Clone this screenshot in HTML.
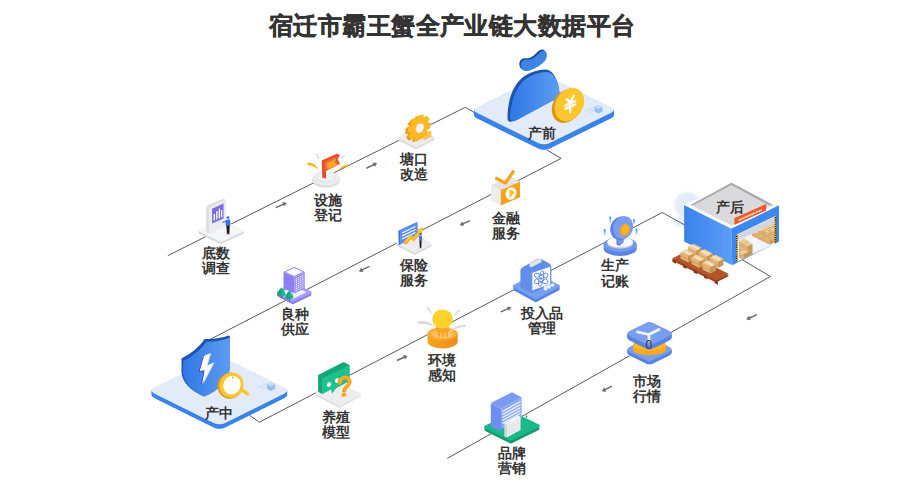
<!DOCTYPE html>
<html><head><meta charset="utf-8">
<style>
html,body{margin:0;padding:0;background:#fff;width:918px;height:482px;overflow:hidden}
svg{display:block}
text{font-family:"Liberation Sans",sans-serif;font-weight:bold;fill:#333}
.lb{font-size:13.6px;text-anchor:middle}
</style></head><body>
<svg width="918" height="482" viewBox="0 0 918 482">
<text x="452.2" y="33.8" style="font-size:24px;text-anchor:middle;letter-spacing:0.43px;stroke:#333;stroke-width:0.45px">宿迁市霸王蟹全产业链大数据平台</text>
<defs><filter id="blur0" x="-50%" y="-50%" width="200%" height="200%"><feGaussianBlur stdDeviation="1.2"/></filter></defs><g filter="url(#blur0)" fill="#e3edfb"><circle cx="687.5" cy="205" r="13"/><circle cx="679.5" cy="222" r="5"/></g><g fill="none" stroke="#5a5a5a" stroke-width="1" stroke-linejoin="miter">
<polyline points="167.8,255.6 465.3,107.3 480,116"/>
<polyline points="546.6,149.8 561.1,158.4 207,341"/>
<polyline points="249.6,415.4 259.4,422.2 662.3,212.5 690,228"/>
<polyline points="740.5,258.7 770.4,276.5 447.3,458.4"/>
</g><path d="M276.4,207.4 L284.9,203.6" stroke="#6a6a6a" stroke-width="1.5" fill="none" stroke-linecap="round"/><polygon points="286.3,203.0 284.2,206.1 282.6,202.5" fill="#6a6a6a" stroke="#6a6a6a" stroke-width="0.5" stroke-linejoin="round"/><path d="M366.9,168.0 L375.4,163.9" stroke="#6a6a6a" stroke-width="1.5" fill="none" stroke-linecap="round"/><polygon points="376.8,163.3 374.8,166.5 373.1,162.9" fill="#6a6a6a" stroke="#6a6a6a" stroke-width="0.5" stroke-linejoin="round"/><path d="M469.5,220.9 L461.5,224.4" stroke="#6a6a6a" stroke-width="1.5" fill="none" stroke-linecap="round"/><polygon points="460.1,225.0 462.2,221.9 463.8,225.6" fill="#6a6a6a" stroke="#6a6a6a" stroke-width="0.5" stroke-linejoin="round"/><path d="M368.9,266.7 L360.7,270.7" stroke="#6a6a6a" stroke-width="1.5" fill="none" stroke-linecap="round"/><polygon points="359.3,271.3 361.3,268.1 363.1,271.7" fill="#6a6a6a" stroke="#6a6a6a" stroke-width="0.5" stroke-linejoin="round"/><path d="M397.5,360.3 L405.7,356.5" stroke="#6a6a6a" stroke-width="1.5" fill="none" stroke-linecap="round"/><polygon points="407.1,355.9 405.0,359.1 403.4,355.4" fill="#6a6a6a" stroke="#6a6a6a" stroke-width="0.5" stroke-linejoin="round"/><path d="M501.4,311.6 L509.6,308.1" stroke="#6a6a6a" stroke-width="1.5" fill="none" stroke-linecap="round"/><polygon points="511.0,307.5 508.8,310.6 507.3,306.9" fill="#6a6a6a" stroke="#6a6a6a" stroke-width="0.5" stroke-linejoin="round"/><path d="M611.3,386.4 L603.5,390.4" stroke="#6a6a6a" stroke-width="1.5" fill="none" stroke-linecap="round"/><polygon points="602.2,391.1 604.1,387.9 606.0,391.4" fill="#6a6a6a" stroke="#6a6a6a" stroke-width="0.5" stroke-linejoin="round"/><path d="M756.3,314.9 L748.1,318.7" stroke="#6a6a6a" stroke-width="1.5" fill="none" stroke-linecap="round"/><polygon points="746.7,319.3 748.8,316.1 750.4,319.8" fill="#6a6a6a" stroke="#6a6a6a" stroke-width="0.5" stroke-linejoin="round"/><path d="M477.28,113.08 Q471.00,110.00 477.28,106.92 L537.72,77.28 Q544.00,74.20 550.28,77.28 L610.72,106.92 Q617.00,110.00 610.72,113.08 L550.28,142.72 Q544.00,145.80 537.72,142.72 Z" fill="#3a85ea" transform="translate(0 5.5)"/><path d="M477.28,113.08 Q471.00,110.00 477.28,106.92 L537.72,77.28 Q544.00,74.20 550.28,77.28 L610.72,106.92 Q617.00,110.00 610.72,113.08 L550.28,142.72 Q544.00,145.80 537.72,142.72 Z" fill="#3a85ea" transform="translate(0 5.0)"/><path d="M477.28,113.08 Q471.00,110.00 477.28,106.92 L537.72,77.28 Q544.00,74.20 550.28,77.28 L610.72,106.92 Q617.00,110.00 610.72,113.08 L550.28,142.72 Q544.00,145.80 537.72,142.72 Z" fill="#3a85ea" transform="translate(0 4.5)"/><path d="M477.28,113.08 Q471.00,110.00 477.28,106.92 L537.72,77.28 Q544.00,74.20 550.28,77.28 L610.72,106.92 Q617.00,110.00 610.72,113.08 L550.28,142.72 Q544.00,145.80 537.72,142.72 Z" fill="#3a85ea" transform="translate(0 4.0)"/><path d="M477.28,113.08 Q471.00,110.00 477.28,106.92 L537.72,77.28 Q544.00,74.20 550.28,77.28 L610.72,106.92 Q617.00,110.00 610.72,113.08 L550.28,142.72 Q544.00,145.80 537.72,142.72 Z" fill="#3a85ea" transform="translate(0 3.5)"/><path d="M477.28,113.08 Q471.00,110.00 477.28,106.92 L537.72,77.28 Q544.00,74.20 550.28,77.28 L610.72,106.92 Q617.00,110.00 610.72,113.08 L550.28,142.72 Q544.00,145.80 537.72,142.72 Z" fill="#3a85ea" transform="translate(0 3.0)"/><path d="M477.28,113.08 Q471.00,110.00 477.28,106.92 L537.72,77.28 Q544.00,74.20 550.28,77.28 L610.72,106.92 Q617.00,110.00 610.72,113.08 L550.28,142.72 Q544.00,145.80 537.72,142.72 Z" fill="#3a85ea" transform="translate(0 2.5)"/><path d="M477.28,113.08 Q471.00,110.00 477.28,106.92 L537.72,77.28 Q544.00,74.20 550.28,77.28 L610.72,106.92 Q617.00,110.00 610.72,113.08 L550.28,142.72 Q544.00,145.80 537.72,142.72 Z" fill="#3a85ea" transform="translate(0 2.0)"/><path d="M477.28,113.08 Q471.00,110.00 477.28,106.92 L537.72,77.28 Q544.00,74.20 550.28,77.28 L610.72,106.92 Q617.00,110.00 610.72,113.08 L550.28,142.72 Q544.00,145.80 537.72,142.72 Z" fill="#3a85ea" transform="translate(0 1.5)"/><path d="M477.28,113.08 Q471.00,110.00 477.28,106.92 L537.72,77.28 Q544.00,74.20 550.28,77.28 L610.72,106.92 Q617.00,110.00 610.72,113.08 L550.28,142.72 Q544.00,145.80 537.72,142.72 Z" fill="#3a85ea" transform="translate(0 1.0)"/><path d="M477.28,113.08 Q471.00,110.00 477.28,106.92 L537.72,77.28 Q544.00,74.20 550.28,77.28 L610.72,106.92 Q617.00,110.00 610.72,113.08 L550.28,142.72 Q544.00,145.80 537.72,142.72 Z" fill="#3a85ea" transform="translate(0 0.5)"/><path d="M477.28,113.08 Q471.00,110.00 477.28,106.92 L537.72,77.28 Q544.00,74.20 550.28,77.28 L610.72,106.92 Q617.00,110.00 610.72,113.08 L550.28,142.72 Q544.00,145.80 537.72,142.72 Z" fill="#e3ebf9" /><path d="M154.67,393.71 Q148.40,390.60 154.67,387.49 L213.13,358.51 Q219.40,355.40 225.67,358.51 L284.13,387.49 Q290.40,390.60 284.13,393.71 L225.67,422.69 Q219.40,425.80 213.13,422.69 Z" fill="#3a85ea" transform="translate(0 4.5)"/><path d="M154.67,393.71 Q148.40,390.60 154.67,387.49 L213.13,358.51 Q219.40,355.40 225.67,358.51 L284.13,387.49 Q290.40,390.60 284.13,393.71 L225.67,422.69 Q219.40,425.80 213.13,422.69 Z" fill="#3a85ea" transform="translate(0 4.0)"/><path d="M154.67,393.71 Q148.40,390.60 154.67,387.49 L213.13,358.51 Q219.40,355.40 225.67,358.51 L284.13,387.49 Q290.40,390.60 284.13,393.71 L225.67,422.69 Q219.40,425.80 213.13,422.69 Z" fill="#3a85ea" transform="translate(0 3.5)"/><path d="M154.67,393.71 Q148.40,390.60 154.67,387.49 L213.13,358.51 Q219.40,355.40 225.67,358.51 L284.13,387.49 Q290.40,390.60 284.13,393.71 L225.67,422.69 Q219.40,425.80 213.13,422.69 Z" fill="#3a85ea" transform="translate(0 3.0)"/><path d="M154.67,393.71 Q148.40,390.60 154.67,387.49 L213.13,358.51 Q219.40,355.40 225.67,358.51 L284.13,387.49 Q290.40,390.60 284.13,393.71 L225.67,422.69 Q219.40,425.80 213.13,422.69 Z" fill="#3a85ea" transform="translate(0 2.5)"/><path d="M154.67,393.71 Q148.40,390.60 154.67,387.49 L213.13,358.51 Q219.40,355.40 225.67,358.51 L284.13,387.49 Q290.40,390.60 284.13,393.71 L225.67,422.69 Q219.40,425.80 213.13,422.69 Z" fill="#3a85ea" transform="translate(0 2.0)"/><path d="M154.67,393.71 Q148.40,390.60 154.67,387.49 L213.13,358.51 Q219.40,355.40 225.67,358.51 L284.13,387.49 Q290.40,390.60 284.13,393.71 L225.67,422.69 Q219.40,425.80 213.13,422.69 Z" fill="#3a85ea" transform="translate(0 1.5)"/><path d="M154.67,393.71 Q148.40,390.60 154.67,387.49 L213.13,358.51 Q219.40,355.40 225.67,358.51 L284.13,387.49 Q290.40,390.60 284.13,393.71 L225.67,422.69 Q219.40,425.80 213.13,422.69 Z" fill="#3a85ea" transform="translate(0 1.0)"/><path d="M154.67,393.71 Q148.40,390.60 154.67,387.49 L213.13,358.51 Q219.40,355.40 225.67,358.51 L284.13,387.49 Q290.40,390.60 284.13,393.71 L225.67,422.69 Q219.40,425.80 213.13,422.69 Z" fill="#3a85ea" transform="translate(0 0.5)"/><path d="M154.67,393.71 Q148.40,390.60 154.67,387.49 L213.13,358.51 Q219.40,355.40 225.67,358.51 L284.13,387.49 Q290.40,390.60 284.13,393.71 L225.67,422.69 Q219.40,425.80 213.13,422.69 Z" fill="#e3ebf9" /><defs>
<linearGradient id="gBlue" x1="0" y1="0" x2="1" y2="0"><stop offset="0" stop-color="#2f78e6"/><stop offset="1" stop-color="#5c9cf2"/></linearGradient>
<linearGradient id="gWall" x1="0" y1="0" x2="1" y2="0"><stop offset="0" stop-color="#3a82ec"/><stop offset="1" stop-color="#5d9ef5"/></linearGradient>
<linearGradient id="gOr" x1="0" y1="0" x2="1" y2="0"><stop offset="0" stop-color="#f7a425"/><stop offset="1" stop-color="#f08d18"/></linearGradient>
</defs>

<!-- 产前 bag + coin -->
<g>
<path d="M520.8,66 C520.5,61 523.5,59.5 527,59.5 C530.5,59.5 533,59 536,56 C539,53 541.5,50.5 544,50.8 C547,51.2 547.5,55 546.2,58.5 C544.5,63 538,67 531.5,69.8 C527.5,71.5 521.5,72.5 520.8,66 Z" fill="#17468f" transform="translate(-1.4 -1.3)"/>
<path d="M520.8,66 C520.5,61 523.5,59.5 527,59.5 C530.5,59.5 533,59 536,56 C539,53 541.5,50.5 544,50.8 C547,51.2 547.5,55 546.2,58.5 C544.5,63 538,67 531.5,69.8 C527.5,71.5 521.5,72.5 520.8,66 Z" fill="#3d84e6"/>
<path d="M507.5,118.5 C507.5,101 512.5,86 522,78 C528.5,72.5 536.5,70 545,69.5 C548,69.5 550,70.5 552,72.5 C557,78 560,88 559.5,97 L515.5,120.5 C511,122.5 507.5,122 507.5,118.5 Z" fill="#1f55a8"/>
<path d="M510,118.5 C510.5,102 515.5,87.5 524.5,80 C531,75 538.5,72.5 546,72 C549,72 551,73 552.5,74.5 C557.5,80 560,89 559.5,97 L516,120.5 C512.5,122 510.5,121 510.5,118.5 Z" fill="url(#gBlue)"/>
<ellipse cx="566.8" cy="106" rx="14" ry="17.8" transform="rotate(30 566.8 106)" fill="#d99818"/>
<ellipse cx="569.4" cy="104.5" rx="13.6" ry="17.5" transform="rotate(30 569.4 104.5)" fill="#fcc62c"/>
<g transform="translate(570 105) skewY(-24) translate(-570 -105)">
<path d="M566.5,97.5 L570,102.5 L573.5,97.5 M565.3,103.2 L574.7,103.2 M565.3,106.5 L574.7,106.5 M570,102.5 L570,112" stroke="#efe0c8" stroke-width="2.3" fill="none" stroke-linecap="round" transform="translate(0.6 0.6)"/>
<path d="M566.5,97.5 L570,102.5 L573.5,97.5 M565.3,103.2 L574.7,103.2 M565.3,106.5 L574.7,106.5 M570,102.5 L570,112" stroke="#fff" stroke-width="2" fill="none" stroke-linecap="round"/>
</g>
<g stroke="#b9d1f5" stroke-width="0.7"><line x1="585" y1="111.5" x2="595" y2="107"/><line x1="589" y1="113" x2="595" y2="110"/></g>
<path d="M594.5,107 L598.5,105 L602.5,107 L602.5,111.5 L598.5,113.5 L594.5,111.5 Z" fill="#8fb8f2" opacity="0.9"/>
<path d="M594.5,107 L598.5,109 L602.5,107 L598.5,105 Z" fill="#c5dcf8"/>
</g>

<!-- 产中 shield + magnifier -->
<g>
<path d="M181.5,358.5 C191,353.5 199.5,347 204.5,339 C213,339.5 222,338 228.5,335.5 L230,336.5 L230,365 C230,378 219.5,390.5 204,396.5 C191,391 182,382 181.5,372 Z" fill="#1d55ad"/>
<path d="M183.2,361 C192.7,356 201.2,349.7 206.2,341.8 C214.2,342.3 223.2,340.2 230,337.8 L230,365.5 C230,378.5 219.5,390.5 204.5,396.5 C192.5,391.5 183.5,382 183,372.5 Z" fill="url(#gBlue)"/>
<path d="M205.3,355 L211.2,353 L207.6,365.3 L214.7,362.3 L203.2,384 L205.8,369.6 L200.8,370.3 Z" fill="#dfe4ee"/>
<path d="M203,357 L209,355 L205.5,367 L212.5,364 L201,385 L203.6,371.3 L198.6,372 Z" fill="#4433d0"/>
<path d="M204,356 L210,354 L206.5,366 L213.5,362.8 L202,384 L204.6,370.3 L199.7,371 Z" fill="#fff"/>
<line x1="240.5" y1="389" x2="247.5" y2="393.8" stroke="#fcc62c" stroke-width="3.8" stroke-linecap="round"/>
<ellipse cx="230.2" cy="385.6" rx="12.6" ry="13.2" transform="rotate(25 230.2 385.6)" fill="#dc9a1a"/>
<ellipse cx="231.5" cy="385.1" rx="12" ry="12.7" transform="rotate(25 231.5 385.1)" fill="#fcc62c"/>
<ellipse cx="232" cy="385.2" rx="8.6" ry="9.5" transform="rotate(25 232 385.2)" fill="#fff"/>
<circle cx="232.8" cy="377.3" r="0.9" fill="#f0a010"/>
<g stroke="#b9d1f5" stroke-width="0.7"><line x1="258" y1="388" x2="268" y2="383.5"/><line x1="262" y1="389.5" x2="268" y2="386.5"/></g>
<path d="M267,384.5 L271,382.5 L275,384.5 L275,389 L271,391 L267,389 Z" fill="#8fb8f2" opacity="0.9"/>
<path d="M267,384.5 L271,386.5 L275,384.5 L271,382.5 Z" fill="#c5dcf8"/>
</g>

<!-- 底数调查 -->
<g>
<path d="M199.5,231.5 L220.9,241.8 L242.8,231.5 L242.8,233 L220.9,243.3 L199.5,233 Z" fill="#d3d8e0" stroke="#d3d8e0" stroke-width="1.8" stroke-linejoin="round"/>
<path d="M199.8,230.5 L220.9,220.3 L242.5,230.8 L220.9,241 Z" fill="#f5f6f8" stroke="#f5f6f8" stroke-width="2.3" stroke-linejoin="round"/>
<path d="M206.2,208.5 Q206.2,206 208.5,205 L221.5,199.5 Q225.8,198 225.8,202 L225.8,225.5 L211,232.5 Q208.5,233.5 206.2,232 Z" fill="#dcdce0"/>
<path d="M208.8,207.5 L222,201 Q225.8,199.5 225.8,203 L225.8,225.5 L211,232.5 Q208.8,233.5 208.8,231.5 Z" fill="#ececef"/>
<polygon points="212.1,208.8 223.5,203.6 223.5,218.4 212.1,223.5" fill="#7a68e4"/>
<g stroke="#fff" stroke-width="1.3"><line x1="214.3" y1="214" x2="214.3" y2="220.5"/><line x1="216.8" y1="211" x2="216.8" y2="219.5"/><line x1="219.3" y1="208.5" x2="219.3" y2="218.3"/><line x1="221.6" y1="210" x2="221.6" y2="217.2"/></g>
<circle cx="228" cy="217.6" r="1.4" fill="#3a66e8"/>
<path d="M225.5,220 L230,219.2 L230.5,225.5 L226,226 Z" fill="#3a6cf0"/>
<path d="M226,221.5 L222.5,222.3" stroke="#3a6cf0" stroke-width="1.2"/>
<path d="M226.3,225.5 L229.8,225.5 L229.3,234 L227,234 Z" fill="#1c1c1c"/>
<line x1="226.5" y1="234" x2="229.5" y2="234" stroke="#e06060" stroke-width="0.8"/>
</g>

<!-- 设施登记 -->
<g>
<ellipse cx="326" cy="180" rx="14" ry="7.8" fill="#dcdcdf"/>
<ellipse cx="326" cy="178.3" rx="13.8" ry="7.3" fill="#ececee"/>
<ellipse cx="326" cy="177.5" rx="10" ry="5" fill="#e2e2e4"/>
<ellipse cx="326" cy="177" rx="9.4" ry="4.4" fill="#f1f1f3"/>
<polygon points="321.8,160.6 336.8,153.8 340,154.9 337.6,159.5 340,163.8 326,171 326,178.5 322.3,177.8" fill="#e9482c"/>
<polygon points="324.5,161.5 338,155.8 335.5,160 338.5,164 324.5,170.5" fill="#f46a3c"/>
<polygon points="327.3,163.2 336.3,158.8 334.3,162.5 337.5,164.5 327.3,169.5" fill="#ffad1b"/>
<path d="M308,162.8 C312.5,162 316.5,165 318.5,169.8 C315,166.8 311.5,165.5 308.3,165.3 C307,164.8 307,163.3 308,162.8 Z" fill="#f8b21f"/>
<path d="M337.3,171.5 C340,167.5 343.5,165 347,164.6 C348.3,164.7 348.2,166.5 347,167 C343.5,167.5 340.5,169 337.3,171.5 Z" fill="#f8b21f"/>
<path d="M316,153.5 C317.5,155 318.5,157 319,159" stroke="#d9d9dd" stroke-width="1.2" fill="none"/>
<path d="M341,158.5 C342,157 343.5,156 345.5,155.5" stroke="#d9d9dd" stroke-width="1.2" fill="none"/>
</g>

<!-- 塘口改造 -->
<g>
<path d="M399.5,138.5 L415.9,147 L433.5,138 L433.5,139.5 L415.9,148.5 L399.5,140 Z" fill="#dadadd" stroke="#dadadd" stroke-width="1.5" stroke-linejoin="round"/>
<path d="M399.5,137.7 L415.9,129.2 L433.5,137.5 L415.9,146.5 Z" fill="#ececee" stroke="#ececee" stroke-width="2.5" stroke-linejoin="round"/>
<polygon points="425.63,124.05 428.13,123.82 427.35,130.12 424.80,130.77 424.23,132.00 425.61,133.89 421.13,139.02 419.44,137.48 418.36,138.14 417.81,141.04 412.26,142.00 412.42,139.17 411.46,138.87 409.30,141.07 405.93,137.30 407.85,134.84 407.57,133.75 405.07,133.98 405.85,127.68 408.40,127.03 408.97,125.80 407.59,123.91 412.07,118.78 413.76,120.32 414.84,119.66 415.39,116.76 420.94,115.80 420.78,118.63 421.74,118.93 423.90,116.73 427.27,120.50 425.35,122.96" fill="#f39a14"/>
<polygon points="428.23,122.75 430.73,122.52 429.95,128.82 427.40,129.47 426.83,130.70 428.21,132.59 423.73,137.72 422.04,136.18 420.96,136.84 420.41,139.74 414.86,140.70 415.02,137.87 414.06,137.57 411.90,139.77 408.53,136.00 410.45,133.54 410.17,132.45 407.67,132.68 408.45,126.38 411.00,125.73 411.57,124.50 410.19,122.61 414.67,117.48 416.36,119.02 417.44,118.36 417.99,115.46 423.54,114.50 423.38,117.33 424.34,117.63 426.50,115.43 429.87,119.20 427.95,121.66" fill="#fcb923"/>
<ellipse cx="419.6" cy="128.2" rx="3.8" ry="5" transform="rotate(28 419.6 128.2)" fill="#e6e6e8"/><ellipse cx="420.2" cy="127.9" rx="3.2" ry="4.5" transform="rotate(28 420.2 127.9)" fill="#f4f4f6"/>
<g fill="#ffc93a" stroke="#f2a416" stroke-width="0.4"><rect x="423.5" y="134.5" width="1.9" height="5"/><rect x="426.3" y="132" width="1.9" height="6.5"/><rect x="429.1" y="131.5" width="1.9" height="5.5"/></g>
</g>

<!-- 金融服务 -->
<g>
<polygon points="490.9,185.2 500.8,189.9 500.8,205.5 490.9,200.8" fill="#ededf0"/>
<polygon points="500.8,189.9 520,181.6 520,197.2 500.8,205.5" fill="#f7a21b"/>
<polygon points="490.9,185.2 500.8,189.9 520,181.6 510.1,176.9" fill="#e3e3e6"/>
<ellipse cx="511" cy="193.5" rx="5.3" ry="6.3" transform="rotate(20 511 193.5)" fill="#fff"/>
<polygon points="509.5,189.5 515,192 509.5,198" fill="#ffc021"/>
<polyline points="496.6,178.5 505.4,183.2 513.2,171.7" stroke="#f7a21b" stroke-width="3.2" fill="none" stroke-linecap="round" stroke-linejoin="round"/>
</g>

<!-- 保险服务 -->
<g>
<path d="M397.7,244 L414.9,252.5 L430.5,244.3 L430.5,245.8 L414.9,254 L397.7,245.5 Z" fill="#d5d9e0" stroke="#d5d9e0" stroke-width="1.5" stroke-linejoin="round"/>
<path d="M397.7,243 L414.9,235 L430.5,243.5 L414.9,251.8 Z" fill="#ededef" stroke="#ededef" stroke-width="2.5" stroke-linejoin="round"/>
<polygon points="398.3,230.8 400.3,229.8 400.8,244.3 398.8,245.3" fill="#3d6fd8"/>
<polygon points="400,229.8 417.5,221.7 418,235.8 400.5,244.3" fill="#5b8def"/>
<g stroke="#fff" stroke-width="1.1"><line x1="402" y1="233" x2="415.5" y2="226.5"/><line x1="402" y1="236" x2="415.5" y2="229.5"/><line x1="402" y1="239" x2="415.5" y2="232.5"/></g>
<path d="M403.5,243.5 L410.5,236 L413.5,238.5 L418.5,232.5 L416.5,231.5 L422.5,228.5 L422,234.5 L420.5,233.5 L414,241.5 L411,239 L406.5,244.5 Z" fill="#f6a516"/>
<path d="M403.5,242 L410.5,234.5 L413.5,237 L418.5,231 L416.5,230 L422.5,227 L422,233 L420.5,232 L414,240 L411,237.5 L406.5,243 Z" fill="#fcc42e"/>
<circle cx="420.6" cy="234.2" r="1.1" fill="#2a55c8"/>
<path d="M418.8,235.8 L422,235.5 L422.2,240.5 L419.2,240.8 Z" fill="#4272f0"/>
<path d="M419.4,240.5 L421.6,240.5 L421.3,248 L419.8,248 Z" fill="#1c1c1c"/>
<line x1="419.5" y1="248" x2="421.5" y2="248" stroke="#e06060" stroke-width="0.7"/>
</g>

<!-- 良种供应 -->
<g>
<path d="M277.8,293.5 L292.8,301.5 L310.5,293 L310.5,295 L292.8,303.5 L277.8,295.5 Z" fill="#8a7cf0" stroke="#8a7cf0" stroke-width="1.5" stroke-linejoin="round"/>
<path d="M278,292.3 L293.9,283.8 L310.3,292.3 L292.8,301 Z" fill="#a79ef8" stroke="#a79ef8" stroke-width="2.5" stroke-linejoin="round"/>
<path d="M282,292.2 L293.9,286 L306.5,292.2 L293,298.8 Z" fill="#f4f3ff"/>
<polygon points="283.5,272 294.4,277.2 294.4,293.5 283.5,288.2" fill="#8b80f2"/>
<polygon points="294.4,277.2 304.8,272 304.8,288.6 294.4,293.5" fill="#9f95f6"/>
<polygon points="283.5,272 294.4,266.7 304.8,272 294.4,277.2" fill="#8b80f2"/>
<polygon points="285.5,272 294.4,267.8 302.8,272 294.4,276" fill="#fff"/>
<g fill="#fff" opacity="0.95"><rect x="295.98" y="278.36" width="1" height="1"/><rect x="295.98" y="280.26" width="1" height="1"/><rect x="295.98" y="282.16" width="1" height="1"/><rect x="295.98" y="284.06" width="1" height="1"/><rect x="295.98" y="285.96" width="1" height="1"/><rect x="295.98" y="287.86" width="1" height="1"/><rect x="295.98" y="289.76" width="1" height="1"/><rect x="298.06" y="277.32" width="1" height="1"/><rect x="298.06" y="279.22" width="1" height="1"/><rect x="298.06" y="281.12" width="1" height="1"/><rect x="298.06" y="283.02" width="1" height="1"/><rect x="298.06" y="284.92" width="1" height="1"/><rect x="298.06" y="286.82" width="1" height="1"/><rect x="298.06" y="288.72" width="1" height="1"/><rect x="300.14" y="276.28" width="1" height="1"/><rect x="300.14" y="278.18" width="1" height="1"/><rect x="300.14" y="280.08" width="1" height="1"/><rect x="300.14" y="281.98" width="1" height="1"/><rect x="300.14" y="283.88" width="1" height="1"/><rect x="300.14" y="285.78" width="1" height="1"/><rect x="300.14" y="287.68" width="1" height="1"/><rect x="302.22" y="275.24" width="1" height="1"/><rect x="302.22" y="277.14" width="1" height="1"/><rect x="302.22" y="279.04" width="1" height="1"/><rect x="302.22" y="280.94" width="1" height="1"/><rect x="302.22" y="282.84" width="1" height="1"/><rect x="302.22" y="284.74" width="1" height="1"/><rect x="302.22" y="286.64" width="1" height="1"/></g>
<path d="M281.5,287.5 C283.5,289.5 285.5,292.5 285.5,294.5 C285.5,296.5 277.5,296.5 277.5,294.5 C277.5,292.5 279.5,289.5 281.5,287.5 Z" fill="#1db98a"/>
<path d="M281.5,287.5 C279.5,289.5 277.5,292.5 277.5,294.5 C277.5,295.5 279.5,296 281.5,296 Z" fill="#16a67a"/>
<line x1="281.5" y1="296" x2="281.5" y2="298" stroke="#333" stroke-width="0.6"/>
<path d="M289.5,290.5 C291.5,292.5 293.5,295.5 293.5,297.5 C293.5,299.5 285.5,299.5 285.5,297.5 C285.5,295.5 287.5,292.5 289.5,290.5 Z" fill="#1db98a"/>
<path d="M289.5,290.5 C287.5,292.5 285.5,295.5 285.5,297.5 C285.5,298.5 287.5,299 289.5,299 Z" fill="#16a67a"/>
<line x1="289.5" y1="299" x2="289.5" y2="301" stroke="#333" stroke-width="0.6"/>
</g>

<!-- 养殖模型 -->
<g>
<path d="M316.8,394 L339.2,405.8 L360,394.5 L360,395.8 L339.2,407 L316.8,395.3 Z" fill="#dcdcdf" stroke="#dcdcdf" stroke-width="1.5" stroke-linejoin="round"/>
<path d="M316.8,393.2 L339.2,383.5 L360,394.4 L339.2,405 Z" fill="#ededef" stroke="#ededef" stroke-width="2.5" stroke-linejoin="round"/>
<path d="M318.1,375 L342.6,362.6 Q344,362 345.5,362.8 L349.5,365.2 L349.5,381 L336,388 L332,393.5 L331.5,389 L322,394 L318.1,391.5 Z" fill="#13a878"/>
<path d="M322,378.5 L349.5,365.2 L349.5,381 L336,388 L332,393.5 L331.5,389 L322,394 Z" fill="#1ec190"/>
<ellipse cx="329" cy="384.5" rx="2" ry="2.6" transform="rotate(25 329 384.5)" fill="#fff"/>
<ellipse cx="337" cy="380.5" rx="2" ry="2.6" transform="rotate(25 337 380.5)" fill="#fff"/>
<path d="M340,382.5 C340,379 342.8,377 346,377.3 C349.6,377.7 351,381 349.2,384 C347.8,386.2 345.3,387 345,390" stroke="#e8900f" stroke-width="3.6" fill="none" stroke-linecap="round" transform="translate(-0.8 0.7)"/>
<path d="M340,382.5 C340,379 342.8,377 346,377.3 C349.6,377.7 351,381 349.2,384 C347.8,386.2 345.3,387 345,390" stroke="#fbac22" stroke-width="3.3" fill="none" stroke-linecap="round"/>
<circle cx="343.6" cy="395" r="2.1" fill="#e8900f"/>
<circle cx="344.3" cy="394.5" r="1.9" fill="#fbac22"/>
</g>

<!-- 环境感知 -->
<g>
<path d="M427.5,333.5 L427.5,341.5 A15.1,7 0 0 0 457.7,341.5 L457.7,333.5 Z" fill="url(#gOr)"/>
<ellipse cx="442.6" cy="333.5" rx="15.1" ry="6.3" fill="#f8ae32"/>
<ellipse cx="442.6" cy="333.8" rx="11.5" ry="4.5" fill="#fbc26a" opacity="0.7"/>
<path d="M436.3,325 L448.8,325 L448.8,335.5 Q442.5,338.5 436.3,335.5 Z" fill="#f7a522"/>
<ellipse cx="442.6" cy="319" rx="10.3" ry="9.4" fill="#fdd22c"/>
<g fill="#d9d9dc">
<path d="M418,321.5 C424,320 431,322 436,327.5 C431,325 425,323.5 418.5,323.8 C417,323.5 417,322 418,321.5 Z"/>
<path d="M427.5,307 C430,308 432,311.5 432.5,315 C431,312.5 429,310 427,308.8 C426.3,308.2 426.8,306.8 427.5,307 Z"/>
<path d="M465,325 C459,324.5 452.5,327.5 449,333 C453,329.5 458.5,327 465,327.3 C466.2,327 466.2,325.3 465,325 Z"/>
<path d="M459,309.5 C456.5,311 454.5,314 454,317.5 C455.5,315 457.5,312.5 459.8,311.3 C460.5,310.8 460,309.3 459,309.5 Z"/>
</g>
<g fill="#fff" opacity="0.35"><rect x="436" y="332" width="1.6" height="5"/><rect x="440" y="333" width="1.6" height="5.5"/><rect x="444" y="333" width="1.6" height="5.5"/><rect x="448" y="332" width="1.6" height="5"/></g>
</g>

<!-- 投入品管理 -->
<g>
<path d="M514,287 L535.8,299 L558.8,287 L558.8,289.5 L535.8,301.5 L514,289.5 Z" fill="#5586e4" stroke="#5586e4" stroke-width="1.5" stroke-linejoin="round"/>
<path d="M514,286 L535.8,274.5 L558.8,286 L535.8,298 Z" fill="#77a0ef" stroke="#77a0ef" stroke-width="2.5" stroke-linejoin="round"/>
<path d="M520.4,270.5 Q520.4,268.3 523,267 L536.5,259.5 Q539.3,258 542,259.5 L549,263.3 Q551.2,264.5 551.2,267 L551.2,284.3 L531.8,293.5 L520.4,287.5 Z" fill="#608ee9"/>
<polygon points="531.8,272.5 550.7,266 550.7,284.3 531.8,291" fill="#fff"/>
<polygon points="531.8,272.5 550.7,266 550.7,284.3 531.8,291" fill="none" stroke="#5e8ee8" stroke-width="1"/>
<g stroke="#5a88e6" stroke-width="0.9" fill="none">
<ellipse cx="541.2" cy="278.5" rx="8" ry="3" transform="rotate(-35 541.2 278.5)"/>
<ellipse cx="541.2" cy="278.5" rx="8" ry="3" transform="rotate(35 541.2 278.5)"/>
<ellipse cx="541.2" cy="278.5" rx="2.2" ry="8" transform="rotate(10 541.2 278.5)"/>
</g>
<circle cx="541.2" cy="278.5" r="1.3" fill="#5a88e6"/>
<path d="M529.5,263.5 L538.5,259 Q540.5,258.5 541.5,260 L541.5,262 L532,267 Q530,267.5 529.5,266 Z" fill="#e6e6e8"/>
<g fill="#eeeef0"><ellipse cx="545.5" cy="288" rx="2" ry="2.5"/><ellipse cx="549" cy="286.5" rx="2" ry="2.3"/><ellipse cx="552.5" cy="285" rx="2" ry="1.8"/></g>
</g>

<!-- 生产记账 -->
<g>
<path d="M603.7,244.5 L603.7,248.5 A16.5,7.5 0 0 0 636.7,248.5 L636.7,244.5 Z" fill="#5a83e4"/>
<ellipse cx="620.2" cy="244.5" rx="16.5" ry="7.5" fill="#7498ec"/>
<ellipse cx="620.2" cy="243" rx="13" ry="5.8" fill="#c9cdd6"/>
<ellipse cx="620.2" cy="242" rx="12.8" ry="5.3" fill="#f7f8fb"/>
<path d="M616.5,236 L616.5,244.5 L619,246 L623.5,242.5 L623.5,236 Z" fill="#5a84e4"/>
<path d="M618.5,238 L618.5,245 L623.5,241.5 L623.5,237 Z" fill="#7a9cef"/>
<ellipse cx="620.8" cy="228.3" rx="10.5" ry="12" transform="rotate(18 620.8 228.3)" fill="#5a84e4"/>
<ellipse cx="623.2" cy="227.5" rx="9.8" ry="11.6" transform="rotate(18 623.2 227.5)" fill="#7b9def"/>
<ellipse cx="624.8" cy="230" rx="5" ry="6.3" transform="rotate(22 624.8 230)" fill="#f8a31b"/>
<ellipse cx="625.5" cy="229.5" rx="3.5" ry="4.8" transform="rotate(22 625.5 229.5)" fill="#fbb52a"/>
<defs><linearGradient id="gDrip" x1="0" y1="0" x2="0" y2="1"><stop offset="0" stop-color="#1f86f0"/><stop offset="1" stop-color="#1f86f0" stop-opacity="0"/></linearGradient></defs>
<g fill="url(#gDrip)">
<path d="M609.2,217 Q610.2,216 611.2,217 L610.8,224 L609.6,224 Z"/>
<path d="M603.7,229.5 Q604.7,228.5 605.7,229.5 L605.3,237 L604.1,237 Z"/>
<path d="M633,219.5 Q634,218.5 635,219.5 L634.6,226 L633.4,226 Z"/>
<path d="M635.5,229 Q636.5,228 637.5,229 L637.1,236.5 L635.9,236.5 Z"/>
</g>
</g>

<!-- 市场行情 -->
<g>
<path d="M630.07,352.18 Q624.70,349.50 630.07,346.82 L645.92,338.89 Q649.50,337.10 653.08,338.89 L668.93,346.82 Q674.30,349.50 668.93,352.18 L653.08,360.11 Q649.50,361.90 645.92,360.11 Z" fill="#5a84e2" transform="translate(0 3.5)"/><path d="M630.07,352.18 Q624.70,349.50 630.07,346.82 L645.92,338.89 Q649.50,337.10 653.08,338.89 L668.93,346.82 Q674.30,349.50 668.93,352.18 L653.08,360.11 Q649.50,361.90 645.92,360.11 Z" fill="#5a84e2" transform="translate(0 3.0)"/><path d="M630.07,352.18 Q624.70,349.50 630.07,346.82 L645.92,338.89 Q649.50,337.10 653.08,338.89 L668.93,346.82 Q674.30,349.50 668.93,352.18 L653.08,360.11 Q649.50,361.90 645.92,360.11 Z" fill="#5a84e2" transform="translate(0 2.5)"/><path d="M630.07,352.18 Q624.70,349.50 630.07,346.82 L645.92,338.89 Q649.50,337.10 653.08,338.89 L668.93,346.82 Q674.30,349.50 668.93,352.18 L653.08,360.11 Q649.50,361.90 645.92,360.11 Z" fill="#5a84e2" transform="translate(0 2.0)"/><path d="M630.07,352.18 Q624.70,349.50 630.07,346.82 L645.92,338.89 Q649.50,337.10 653.08,338.89 L668.93,346.82 Q674.30,349.50 668.93,352.18 L653.08,360.11 Q649.50,361.90 645.92,360.11 Z" fill="#5a84e2" transform="translate(0 1.5)"/><path d="M630.07,352.18 Q624.70,349.50 630.07,346.82 L645.92,338.89 Q649.50,337.10 653.08,338.89 L668.93,346.82 Q674.30,349.50 668.93,352.18 L653.08,360.11 Q649.50,361.90 645.92,360.11 Z" fill="#5a84e2" transform="translate(0 1.0)"/><path d="M630.07,352.18 Q624.70,349.50 630.07,346.82 L645.92,338.89 Q649.50,337.10 653.08,338.89 L668.93,346.82 Q674.30,349.50 668.93,352.18 L653.08,360.11 Q649.50,361.90 645.92,360.11 Z" fill="#5a84e2" transform="translate(0 0.5)"/><path d="M630.07,352.18 Q624.70,349.50 630.07,346.82 L645.92,338.89 Q649.50,337.10 653.08,338.89 L668.93,346.82 Q674.30,349.50 668.93,352.18 L653.08,360.11 Q649.50,361.90 645.92,360.11 Z" fill="#7a9fee"/>
<path d="M633,345 L633,349.5 A16.5,5.8 0 0 0 666,349.5 L666,345 Z" fill="#f8a81c"/>
<ellipse cx="649.5" cy="345" rx="16.5" ry="5.8" fill="#fbb62a"/>
<path d="M630.07,336.18 Q624.70,333.50 630.07,330.82 L645.92,322.89 Q649.50,321.10 653.08,322.89 L668.93,330.82 Q674.30,333.50 668.93,336.18 L653.08,344.11 Q649.50,345.90 645.92,344.11 Z" fill="#5a84e2" transform="translate(0 4.5)"/><path d="M630.07,336.18 Q624.70,333.50 630.07,330.82 L645.92,322.89 Q649.50,321.10 653.08,322.89 L668.93,330.82 Q674.30,333.50 668.93,336.18 L653.08,344.11 Q649.50,345.90 645.92,344.11 Z" fill="#5a84e2" transform="translate(0 4.0)"/><path d="M630.07,336.18 Q624.70,333.50 630.07,330.82 L645.92,322.89 Q649.50,321.10 653.08,322.89 L668.93,330.82 Q674.30,333.50 668.93,336.18 L653.08,344.11 Q649.50,345.90 645.92,344.11 Z" fill="#5a84e2" transform="translate(0 3.5)"/><path d="M630.07,336.18 Q624.70,333.50 630.07,330.82 L645.92,322.89 Q649.50,321.10 653.08,322.89 L668.93,330.82 Q674.30,333.50 668.93,336.18 L653.08,344.11 Q649.50,345.90 645.92,344.11 Z" fill="#5a84e2" transform="translate(0 3.0)"/><path d="M630.07,336.18 Q624.70,333.50 630.07,330.82 L645.92,322.89 Q649.50,321.10 653.08,322.89 L668.93,330.82 Q674.30,333.50 668.93,336.18 L653.08,344.11 Q649.50,345.90 645.92,344.11 Z" fill="#5a84e2" transform="translate(0 2.5)"/><path d="M630.07,336.18 Q624.70,333.50 630.07,330.82 L645.92,322.89 Q649.50,321.10 653.08,322.89 L668.93,330.82 Q674.30,333.50 668.93,336.18 L653.08,344.11 Q649.50,345.90 645.92,344.11 Z" fill="#5a84e2" transform="translate(0 2.0)"/><path d="M630.07,336.18 Q624.70,333.50 630.07,330.82 L645.92,322.89 Q649.50,321.10 653.08,322.89 L668.93,330.82 Q674.30,333.50 668.93,336.18 L653.08,344.11 Q649.50,345.90 645.92,344.11 Z" fill="#5a84e2" transform="translate(0 1.5)"/><path d="M630.07,336.18 Q624.70,333.50 630.07,330.82 L645.92,322.89 Q649.50,321.10 653.08,322.89 L668.93,330.82 Q674.30,333.50 668.93,336.18 L653.08,344.11 Q649.50,345.90 645.92,344.11 Z" fill="#5a84e2" transform="translate(0 1.0)"/><path d="M630.07,336.18 Q624.70,333.50 630.07,330.82 L645.92,322.89 Q649.50,321.10 653.08,322.89 L668.93,330.82 Q674.30,333.50 668.93,336.18 L653.08,344.11 Q649.50,345.90 645.92,344.11 Z" fill="#5a84e2" transform="translate(0 0.5)"/><path d="M630.07,336.18 Q624.70,333.50 630.07,330.82 L645.92,322.89 Q649.50,321.10 653.08,322.89 L668.93,330.82 Q674.30,333.50 668.93,336.18 L653.08,344.11 Q649.50,345.90 645.92,344.11 Z" fill="#7a9fee"/>
<path d="M637.5,332 L648.8,334.5 L659,329.5 M648.8,334.5 L649.2,340.5" stroke="#f2f4f8" stroke-width="2.8" fill="none" stroke-linecap="round" stroke-linejoin="round"/>
<text x="648.8" y="348.5" style="font-size:12px;font-weight:normal;text-anchor:middle;fill:#333">0</text>
</g>

<!-- 品牌营销 -->
<g>
<path d="M485.6,428 L510.8,440.5 L538.3,426.8 L538.3,429 L510.8,442.5 L485.6,430 Z" fill="#119c70" stroke="#119c70" stroke-width="2" stroke-linejoin="round"/>
<path d="M485.6,427.1 L513,413.5 L538.3,425.9 L510.8,439 Z" fill="#1bb98a" stroke="#1bb98a" stroke-width="3" stroke-linejoin="round"/>
<circle cx="517.5" cy="426" r="0.9" fill="#0d5d45"/>
<polygon points="490.8,403.1 501.1,408.8 501.1,431.5 490.8,426.5" fill="#6f8ff0"/>
<polygon points="501.1,408.8 521.6,397.3 521.6,418 501.1,429" fill="#8aa8f5"/>
<polygon points="490.8,403.1 511.9,392.3 521.6,397.3 501.1,408.8" fill="#7b9bf2"/>
<g stroke="#fff" stroke-width="1.1">
<line x1="502.5" y1="411.5" x2="520.5" y2="401.5"/><line x1="502.5" y1="414.5" x2="520.5" y2="404.5"/><line x1="502.5" y1="417.5" x2="520.5" y2="407.5"/><line x1="502.5" y1="420.5" x2="520.5" y2="410.5"/><line x1="502.5" y1="423.5" x2="520.5" y2="413.5"/>
</g>
<polygon points="504.3,423.3 506.5,424.5 506.5,437.5 504.3,436.3" fill="#d6d6d9"/>
<polygon points="506.5,424.5 520.5,417 520.5,430 506.5,437.5" fill="#f3f3f5"/>
<polygon points="504.3,423.3 518.3,415.8 520.5,417 506.5,424.5" fill="#fdfdfd"/>
<g stroke="#d2d4da" stroke-width="0.5"><line x1="509.30" y1="424.00" x2="509.30" y2="435.50"/><line x1="512.10" y1="422.50" x2="512.10" y2="434.00"/><line x1="514.90" y1="421.00" x2="514.90" y2="432.50"/><line x1="517.70" y1="419.50" x2="517.70" y2="431.00"/><line x1="506.5" y1="427.10" x2="520.5" y2="419.60"/><line x1="506.5" y1="429.70" x2="520.5" y2="422.20"/><line x1="506.5" y1="432.30" x2="520.5" y2="424.80"/><line x1="506.5" y1="434.90" x2="520.5" y2="427.40"/></g>
<path d="M526.5,414.5 L527.5,417.5 L525.5,417.5 Z" fill="#0f8a63"/>
</g>

<!-- 产后 warehouse -->
<defs>
<filter id="blur1" x="-50%" y="-50%" width="200%" height="200%"><feGaussianBlur stdDeviation="1.2"/></filter>
</defs>
<g>
<path d="M684.1,205.1 L731.2,228.6 L732.3,265.2 L684.1,241.5 Z" fill="url(#gWall)"/>
<path d="M731.2,228.6 L779,205.1 L779,241.4 L732.3,265.2 Z" fill="#3d88ef"/>
<defs><clipPath id="door"><path d="M736.7,234.7 L775.5,216 L775.5,243.2 L736.7,261.9 Z"/></clipPath></defs>
<path d="M736.7,234.7 L775.5,216 L775.5,243.2 L736.7,261.9 Z" fill="#f2f6fb"/>
<g clip-path="url(#door)"><path d="M759.00,233.00 L764.50,235.75 L764.50,230.25 L759.00,227.50 Z" fill="#dcae6e"/><path d="M764.50,235.75 L770.50,232.75 L770.50,227.25 L764.50,230.25 Z" fill="#c8975a"/><path d="M759.00,227.50 L764.50,230.25 L770.50,227.25 L765.00,224.50 Z" fill="#eecb94"/><circle cx="761.75" cy="230.07" r="0.5" fill="#fff" opacity="0.8"/><path d="M765.00,230.00 L770.50,232.75 L770.50,227.25 L765.00,224.50 Z" fill="#dcae6e"/><path d="M770.50,232.75 L776.50,229.75 L776.50,224.25 L770.50,227.25 Z" fill="#c8975a"/><path d="M765.00,224.50 L770.50,227.25 L776.50,224.25 L771.00,221.50 Z" fill="#eecb94"/><circle cx="767.75" cy="227.07" r="0.5" fill="#fff" opacity="0.8"/><path d="M752.00,236.00 L757.50,238.75 L757.50,233.25 L752.00,230.50 Z" fill="#dcae6e"/><path d="M757.50,238.75 L763.50,235.75 L763.50,230.25 L757.50,233.25 Z" fill="#c8975a"/><path d="M752.00,230.50 L757.50,233.25 L763.50,230.25 L758.00,227.50 Z" fill="#eecb94"/><circle cx="754.75" cy="233.07" r="0.5" fill="#fff" opacity="0.8"/><path d="M758.00,239.00 L763.50,241.75 L763.50,236.25 L758.00,233.50 Z" fill="#dcae6e"/><path d="M763.50,241.75 L769.50,238.75 L769.50,233.25 L763.50,236.25 Z" fill="#c8975a"/><path d="M758.00,233.50 L763.50,236.25 L769.50,233.25 L764.00,230.50 Z" fill="#eecb94"/><circle cx="760.75" cy="236.07" r="0.5" fill="#fff" opacity="0.8"/><path d="M758.00,233.50 L763.50,236.25 L763.50,230.75 L758.00,228.00 Z" fill="#dcae6e"/><path d="M763.50,236.25 L769.50,233.25 L769.50,227.75 L763.50,230.75 Z" fill="#c8975a"/><path d="M758.00,228.00 L763.50,230.75 L769.50,227.75 L764.00,225.00 Z" fill="#eecb94"/><circle cx="760.75" cy="230.57" r="0.5" fill="#fff" opacity="0.8"/><path d="M764.00,242.00 L769.50,244.75 L769.50,239.25 L764.00,236.50 Z" fill="#dcae6e"/><path d="M769.50,244.75 L775.50,241.75 L775.50,236.25 L769.50,239.25 Z" fill="#c8975a"/><path d="M764.00,236.50 L769.50,239.25 L775.50,236.25 L770.00,233.50 Z" fill="#eecb94"/><circle cx="766.75" cy="239.07" r="0.5" fill="#fff" opacity="0.8"/><path d="M764.00,236.50 L769.50,239.25 L769.50,233.75 L764.00,231.00 Z" fill="#dcae6e"/><path d="M769.50,239.25 L775.50,236.25 L775.50,230.75 L769.50,233.75 Z" fill="#c8975a"/><path d="M764.00,231.00 L769.50,233.75 L775.50,230.75 L770.00,228.00 Z" fill="#eecb94"/><circle cx="766.75" cy="233.57" r="0.5" fill="#fff" opacity="0.8"/><path d="M769.00,239.00 L774.50,241.75 L774.50,236.75 L769.00,234.00 Z" fill="#dcae6e"/><path d="M774.50,241.75 L780.50,238.75 L780.50,233.75 L774.50,236.75 Z" fill="#c8975a"/><path d="M769.00,234.00 L774.50,236.75 L780.50,233.75 L775.00,231.00 Z" fill="#eecb94"/><circle cx="771.75" cy="236.57" r="0.5" fill="#fff" opacity="0.8"/><path d="M769.00,234.00 L774.50,236.75 L774.50,231.75 L769.00,229.00 Z" fill="#dcae6e"/><path d="M774.50,236.75 L780.50,233.75 L780.50,228.75 L774.50,231.75 Z" fill="#c8975a"/><path d="M769.00,229.00 L774.50,231.75 L780.50,228.75 L775.00,226.00 Z" fill="#eecb94"/><circle cx="771.75" cy="231.57" r="0.5" fill="#fff" opacity="0.8"/><path d="M739.00,252.00 L743.50,254.25 L743.50,248.75 L739.00,246.50 Z" fill="#dcae6e"/><path d="M743.50,254.25 L748.50,251.75 L748.50,246.25 L743.50,248.75 Z" fill="#c8975a"/><path d="M739.00,246.50 L743.50,248.75 L748.50,246.25 L744.00,244.00 Z" fill="#eecb94"/><circle cx="741.25" cy="248.82" r="0.5" fill="#fff" opacity="0.8"/><path d="M739.00,246.50 L743.50,248.75 L743.50,243.25 L739.00,241.00 Z" fill="#dcae6e"/><path d="M743.50,248.75 L748.50,246.25 L748.50,240.75 L743.50,243.25 Z" fill="#c8975a"/><path d="M739.00,241.00 L743.50,243.25 L748.50,240.75 L744.00,238.50 Z" fill="#eecb94"/><circle cx="741.25" cy="243.32" r="0.5" fill="#fff" opacity="0.8"/><path d="M743.00,255.00 L747.50,257.25 L747.50,251.75 L743.00,249.50 Z" fill="#dcae6e"/><path d="M747.50,257.25 L752.50,254.75 L752.50,249.25 L747.50,251.75 Z" fill="#c8975a"/><path d="M743.00,249.50 L747.50,251.75 L752.50,249.25 L748.00,247.00 Z" fill="#eecb94"/><circle cx="745.25" cy="251.82" r="0.5" fill="#fff" opacity="0.8"/><path d="M743.00,249.50 L747.50,251.75 L747.50,246.25 L743.00,244.00 Z" fill="#dcae6e"/><path d="M747.50,251.75 L752.50,249.25 L752.50,243.75 L747.50,246.25 Z" fill="#c8975a"/><path d="M743.00,244.00 L747.50,246.25 L752.50,243.75 L748.00,241.50 Z" fill="#eecb94"/><circle cx="745.25" cy="246.32" r="0.5" fill="#fff" opacity="0.8"/><path d="M739.00,257.50 L743.50,259.75 L743.50,254.25 L739.00,252.00 Z" fill="#dcae6e"/><path d="M743.50,259.75 L748.50,257.25 L748.50,251.75 L743.50,254.25 Z" fill="#c8975a"/><path d="M739.00,252.00 L743.50,254.25 L748.50,251.75 L744.00,249.50 Z" fill="#eecb94"/><circle cx="741.25" cy="254.32" r="0.5" fill="#fff" opacity="0.8"/></g>
<path d="M736.7,234.7 L775.5,216 L775.5,222.5 L736.7,241.5 Z" fill="#e6e8ec"/>
<g stroke="#b9bec6" stroke-width="0.5"><line x1="736.7" y1="235.85" x2="775.5" y2="217.15"/><line x1="736.7" y1="237.00" x2="775.5" y2="218.30"/><line x1="736.7" y1="238.15" x2="775.5" y2="219.45"/><line x1="736.7" y1="239.30" x2="775.5" y2="220.60"/><line x1="736.7" y1="240.45" x2="775.5" y2="221.75"/></g>
<line x1="736.7" y1="234.7" x2="736.7" y2="261.9" stroke="#1e1e1e" stroke-width="1.4"/>
<line x1="775.5" y1="216" x2="775.5" y2="243.2" stroke="#1e1e1e" stroke-width="1.4"/>
<line x1="736.7" y1="234.7" x2="736.7" y2="261.9" stroke="#f2c014" stroke-width="1.4" stroke-dasharray="1.1 1.1"/>
<line x1="775.5" y1="216" x2="775.5" y2="243.2" stroke="#f2c014" stroke-width="1.4" stroke-dasharray="1.1 1.1"/>
<path d="M684.3,205 L731.5,182.5 L779,205 L731.5,228.5 Z" fill="#fff"/>
<path d="M690.3,205 L731.5,182.8 L773.2,205 L731.5,225.5 Z" fill="#dadadc"/>
<path d="M690.3,205 L731.5,182.8 L773.2,205 L768.8,205.3 L731.5,185 L693.5,205.3 Z" fill="#a9aaad"/>
<path d="M734.3,218.2 L765.4,204.3 Q766.2,204 766.2,205 L766.2,210.5 L735.3,224.5 Q734.3,225 734.3,224 Z" fill="#ee5a26"/>
<g stroke="#fff" stroke-width="1.6" stroke-dasharray="1.1 0.5"><line x1="738.5" y1="220.3" x2="762" y2="209.8"/></g>
<g>
<path d="M672.00,258.50 L685.00,252.00 L729.00,274.00 L716.00,280.50 Z" fill="#98431f" transform="translate(0 2)"/><path d="M672.00,258.50 L685.00,252.00 L729.00,274.00 L716.00,280.50 Z" fill="#b4542a"/><path d="M672.50,258.75 l3.5,1.75 l0,3.2 l-3.5,-1.75 Z" fill="#8a3a1a"/><path d="M683.00,264.00 l3.5,1.75 l0,3.2 l-3.5,-1.75 Z" fill="#8a3a1a"/><path d="M693.50,269.25 l3.5,1.75 l0,3.2 l-3.5,-1.75 Z" fill="#8a3a1a"/><path d="M704.00,274.50 l3.5,1.75 l0,3.2 l-3.5,-1.75 Z" fill="#8a3a1a"/><path d="M714.50,279.75 l3.5,1.75 l0,3.2 l-3.5,-1.75 Z" fill="#8a3a1a"/><path d="M688.00,253.00 L696.00,257.00 L696.00,250.50 L688.00,246.50 Z" fill="#e0b474"/><path d="M696.00,257.00 L701.50,254.25 L701.50,247.75 L696.00,250.50 Z" fill="#c99656"/><path d="M688.00,246.50 L696.00,250.50 L701.50,247.75 L693.50,243.75 Z" fill="#f0d09a"/><line x1="690.75" y1="245.12" x2="698.75" y2="249.12" stroke="#fbf3e6" stroke-width="1"/><line x1="688.00" y1="250.07" x2="696.00" y2="254.07" stroke="#b88545" stroke-width="0.4"/><path d="M699.00,258.50 L707.00,262.50 L707.00,256.00 L699.00,252.00 Z" fill="#e0b474"/><path d="M707.00,262.50 L712.50,259.75 L712.50,253.25 L707.00,256.00 Z" fill="#c99656"/><path d="M699.00,252.00 L707.00,256.00 L712.50,253.25 L704.50,249.25 Z" fill="#f0d09a"/><line x1="701.75" y1="250.62" x2="709.75" y2="254.62" stroke="#fbf3e6" stroke-width="1"/><line x1="699.00" y1="255.57" x2="707.00" y2="259.57" stroke="#b88545" stroke-width="0.4"/><path d="M710.00,264.00 L718.00,268.00 L718.00,261.50 L710.00,257.50 Z" fill="#e0b474"/><path d="M718.00,268.00 L723.50,265.25 L723.50,258.75 L718.00,261.50 Z" fill="#c99656"/><path d="M710.00,257.50 L718.00,261.50 L723.50,258.75 L715.50,254.75 Z" fill="#f0d09a"/><line x1="712.75" y1="256.12" x2="720.75" y2="260.12" stroke="#fbf3e6" stroke-width="1"/><line x1="710.00" y1="261.07" x2="718.00" y2="265.07" stroke="#b88545" stroke-width="0.4"/><path d="M680.50,258.50 L688.50,262.50 L688.50,256.00 L680.50,252.00 Z" fill="#e0b474"/><path d="M688.50,262.50 L694.00,259.75 L694.00,253.25 L688.50,256.00 Z" fill="#c99656"/><path d="M680.50,252.00 L688.50,256.00 L694.00,253.25 L686.00,249.25 Z" fill="#f0d09a"/><line x1="683.25" y1="250.62" x2="691.25" y2="254.62" stroke="#fbf3e6" stroke-width="1"/><line x1="680.50" y1="255.57" x2="688.50" y2="259.57" stroke="#b88545" stroke-width="0.4"/><path d="M691.50,264.00 L699.50,268.00 L699.50,261.50 L691.50,257.50 Z" fill="#e0b474"/><path d="M699.50,268.00 L705.00,265.25 L705.00,258.75 L699.50,261.50 Z" fill="#c99656"/><path d="M691.50,257.50 L699.50,261.50 L705.00,258.75 L697.00,254.75 Z" fill="#f0d09a"/><line x1="694.25" y1="256.12" x2="702.25" y2="260.12" stroke="#fbf3e6" stroke-width="1"/><line x1="691.50" y1="261.07" x2="699.50" y2="265.07" stroke="#b88545" stroke-width="0.4"/><path d="M702.50,269.50 L710.50,273.50 L710.50,267.00 L702.50,263.00 Z" fill="#e0b474"/><path d="M710.50,273.50 L716.00,270.75 L716.00,264.25 L710.50,267.00 Z" fill="#c99656"/><path d="M702.50,263.00 L710.50,267.00 L716.00,264.25 L708.00,260.25 Z" fill="#f0d09a"/><line x1="705.25" y1="261.62" x2="713.25" y2="265.62" stroke="#fbf3e6" stroke-width="1"/><line x1="702.50" y1="266.57" x2="710.50" y2="270.57" stroke="#b88545" stroke-width="0.4"/>
</g>
</g>

<g>
<text class="lb" x="215.7" y="257.6">底数</text><text class="lb" x="215.7" y="272.8">调查</text>
<text class="lb" x="328" y="204.6">设施</text><text class="lb" x="328" y="219.8">登记</text>
<text class="lb" x="413.5" y="163.6">塘口</text><text class="lb" x="413.5" y="178.8">改造</text>
<text class="lb" x="506" y="222.6">金融</text><text class="lb" x="506" y="237.8">服务</text>
<text class="lb" x="414" y="269.6">保险</text><text class="lb" x="414" y="284.8">服务</text>
<text class="lb" x="295" y="319.1">良种</text><text class="lb" x="295" y="334.3">供应</text>
<text class="lb" x="335.5" y="421.6">养殖</text><text class="lb" x="335.5" y="436.8">模型</text>
<text class="lb" x="441.6" y="364.6">环境</text><text class="lb" x="441.6" y="379.8">感知</text>
<text class="lb" x="541.5" y="317.6">投入品</text><text class="lb" x="541.5" y="332.8">管理</text>
<text class="lb" x="615" y="270.4">生产</text><text class="lb" x="615" y="285.6">记账</text>
<text class="lb" x="646.5" y="386.1">市场</text><text class="lb" x="646.5" y="401.3">行情</text>
<text class="lb" x="512.3" y="457.6">品牌</text><text class="lb" x="512.3" y="472.8">营销</text>
<text class="lb" x="541.5" y="137.9">产前</text>
<text class="lb" x="219" y="417.6">产中</text>
<text class="lb" x="730" y="211.9">产后</text>
</g>
</svg>
</body></html>
